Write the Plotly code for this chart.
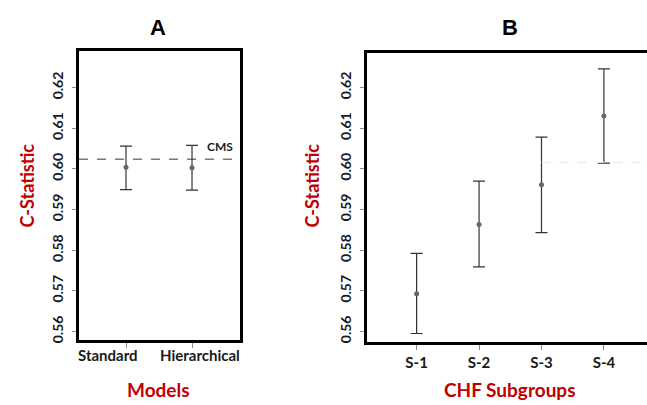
import plotly.graph_objects as go

# Panel A data
models = ["Standard", "Hierarchical"]
model_c = [0.6004, 0.6003]
model_lo = [0.5949, 0.5948]
model_hi = [0.6056, 0.6058]
cms_value = 0.6024

# Panel B data
subgroups = ["S-1", "S-2", "S-3", "S-4"]
sub_c = [0.5693, 0.5863, 0.5961, 0.6130]
sub_lo = [0.5595, 0.5759, 0.5843, 0.6014]
sub_hi = [0.5792, 0.5970, 0.6078, 0.6246]
b_ref_value = 0.6016

yticks = [0.56, 0.57, 0.58, 0.59, 0.60, 0.61, 0.62]
ytick_text = ["0.56", "0.57", "0.58", "0.59", "0.60", "0.61", "0.62"]

W, H = 647, 405
RED = "#C00000"
FONT = "Lato"

fig = go.Figure()

def err(c, lo, hi):
    return dict(type="data", symmetric=False,
                array=[h - m for h, m in zip(hi, c)],
                arrayminus=[m - l for m, l in zip(c, lo)],
                color="#333333", thickness=1.2, width=6)

fig.add_trace(go.Scatter(x=models, y=model_c, mode="markers",
                         marker=dict(size=5, color="#666666"),
                         error_y=err(model_c, model_lo, model_hi),
                         xaxis="x", yaxis="y", showlegend=False))
fig.add_trace(go.Scatter(x=subgroups, y=sub_c, mode="markers",
                         marker=dict(size=5, color="#666666"),
                         error_y=err(sub_c, sub_lo, sub_hi),
                         xaxis="x2", yaxis="y2", showlegend=False))

ax_common = dict(showgrid=False, zeroline=False, linecolor="black", linewidth=2.5,
                 ticks="outside", tickcolor="#888888", ticklen=4)
yfont = dict(family=FONT, size=14, color="#1a1a1a", weight="bold")
xfont = dict(family=FONT, size=15, color="#1a1a1a", weight="bold")

fig.update_layout(
    width=W, height=H, margin=dict(l=0, r=0, t=0, b=0),
    paper_bgcolor="white", plot_bgcolor="white",
    xaxis=dict(domain=[79 / W, 240 / W], range=[-0.712, 1.727], type="category",
               showline=True, mirror=True, anchor="y", showticklabels=False, **ax_common),
    yaxis=dict(domain=[1 - 343 / H, 1 - 51 / H], range=[0.5578, 0.6291],
               tickvals=yticks, ticktext=ytick_text, tickangle=-90, tickfont=yfont,
               showline=True, mirror=True, anchor="x", ticklabelstandoff=4, **ax_common),
    xaxis2=dict(domain=[367 / W, 1.0], range=[-0.795, 3.69], type="category",
                showline=True, mirror=True, anchor="y2", tickfont=xfont, tickangle=0,
                **ax_common),
    yaxis2=dict(domain=[1 - 345 / H, 1 - 53 / H], range=[0.5573, 0.6286],
                tickvals=yticks, ticktext=ytick_text, tickangle=-90, tickfont=yfont,
                showline=True, mirror=False, anchor="x2", ticklabelstandoff=4, **ax_common),
)
fig.update_xaxes(ticklen=5)

# A x tick labels (spread apart as in the original)
for name, shift, anchor in zip(models, [-18, 8], ["center", "center"]):
    fig.add_annotation(text=name, xref="x", yref="paper", x=name, y=1 - 358 / H,
                       xshift=shift, xanchor=anchor, yanchor="middle", showarrow=False,
                       font=xfont)

# CMS reference line in A
fig.add_shape(type="line", xref="x domain", yref="y", x0=0, x1=1, y0=cms_value, y1=cms_value,
              line=dict(color="#333333", width=1, dash="dash"))
fig.add_annotation(text="CMS", xref="paper", yref="y", x=220 / W, y=cms_value,
                   yshift=13, showarrow=False,
                   font=dict(family=FONT, size=12, color="#1a1a1a", weight="bold"))
# faint line in B
fig.add_shape(type="line", xref="x2", yref="y2", x0=2, x1=3.69, y0=b_ref_value, y1=b_ref_value,
              line=dict(color="#e6e6e6", width=1, dash="dash"))

# Titles
ann = [
    dict(text="A", x=158 / W, y=1 - 28 / H, size=22, color="black", angle=0, fam="Liberation Sans"),
    dict(text="B", x=510 / W, y=1 - 28 / H, size=22, color="black", angle=0, fam="Liberation Sans"),
    dict(text="Models", x=158 / W, y=1 - 392 / H, size=19, color=RED, angle=0, fam=FONT),
    dict(text="CHF Subgroups", x=510 / W, y=1 - 392 / H, size=19, color=RED, angle=0, fam=FONT),
    dict(text="C-Statistic", x=27 / W, y=1 - 187 / H, size=18, color=RED, angle=-90, fam=FONT),
    dict(text="C-Statistic", x=312 / W, y=1 - 187 / H, size=18, color=RED, angle=-90, fam=FONT),
]
for a in ann:
    fig.add_annotation(text=a["text"], xref="paper", yref="paper", x=a["x"], y=a["y"],
                       xanchor="center", yanchor="middle", showarrow=False, textangle=a["angle"],
                       font=dict(family=a["fam"], size=a["size"], color=a["color"], weight="bold"))

fig.write_html("out.html", config={"displayModeBar": False},
               post_script="document.body.style.margin='0';document.body.style.overflow='hidden';")
